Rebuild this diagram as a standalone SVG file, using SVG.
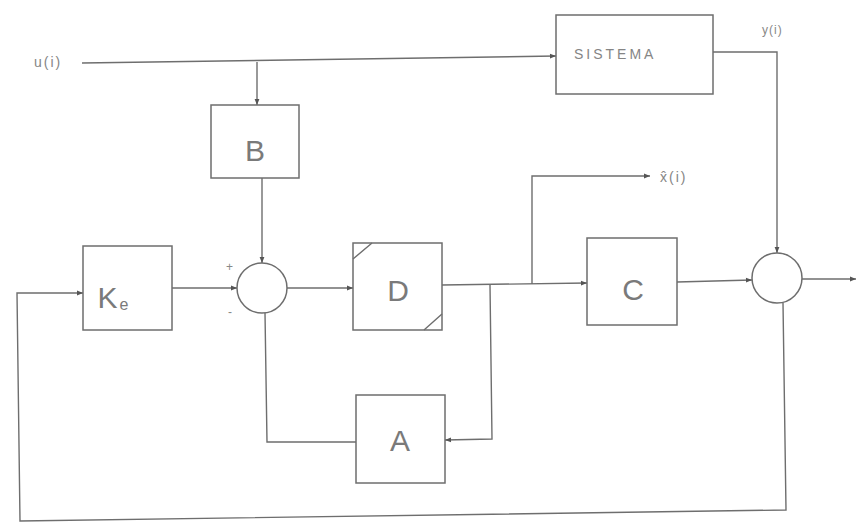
<svg xmlns="http://www.w3.org/2000/svg" width="858" height="523" viewBox="0 0 858 523">
<style>
.box{fill:none;stroke:#6e6e6e;stroke-width:1.5}
.ln{fill:none;stroke:#6e6e6e;stroke-width:1.4}
.big{font-family:"Liberation Sans",Arial,sans-serif;font-size:30px;fill:#7a7a7a;text-anchor:middle}
.lbl{font-family:"Liberation Sans",Arial,sans-serif;font-size:14px;fill:#858585}
.sm{font-family:"Liberation Sans",Arial,sans-serif;font-size:12px;fill:#888}
</style>
<defs>
<marker id="ar" viewBox="0 0 10 10" refX="10" refY="5" markerWidth="8" markerHeight="6" orient="auto" markerUnits="userSpaceOnUse">
<path d="M0,1 L10,5 L0,9 Z" fill="#555"/>
</marker>
</defs>
<rect width="858" height="523" fill="#fff"/>
<g id="connectors">
<path class="ln" d="M82,63 L556,56" marker-end="url(#ar)"/>
<path class="ln" d="M257,62 L257,105" marker-end="url(#ar)"/>
<path class="ln" d="M262,178 L262,263" marker-end="url(#ar)"/>
<path class="ln" d="M172,288 L237,288" marker-end="url(#ar)"/>
<path class="ln" d="M287,288 L353,288" marker-end="url(#ar)"/>
<path class="ln" d="M442,285 L587,283" marker-end="url(#ar)"/>
<path class="ln" d="M532,284 L532,176 L650,176" marker-end="url(#ar)"/>
<path class="ln" d="M490,285 L492,439 L445,440" marker-end="url(#ar)"/>
<path class="ln" d="M356,442 L267,442 L265,313"/>
<path class="ln" d="M677,282 L752,280" marker-end="url(#ar)"/>
<path class="ln" d="M713,52 L777,52 L777,253" marker-end="url(#ar)"/>
<path class="ln" d="M802,279 L856,279" marker-end="url(#ar)"/>
<path class="ln" d="M783,303 L786,510 L20,521 L17,293 L83,293" marker-end="url(#ar)"/>
</g>
<g id="u-label"><text class="lbl" x="34" y="67" letter-spacing="2">u(i)</text></g>
<g id="sistema">
<rect class="box" x="556" y="15" width="157" height="79"/>
<text class="lbl" x="574" y="59" font-size="15" letter-spacing="3">SISTEMA</text>
</g>
<g id="y-label"><text class="sm" x="762" y="34" letter-spacing="1">y(i)</text></g>
<g id="B">
<rect class="box" x="211" y="105" width="88" height="73"/>
<text class="big" x="255" y="161">B</text>
</g>
<g id="Ke">
<rect class="box" x="83" y="246" width="89" height="84"/>
<text class="big" x="113" y="308" text-anchor="start">K<tspan font-size="16" dx="2" dy="2">e</tspan></text>
</g>
<g id="sum1">
<circle class="box" cx="262" cy="288" r="25"/>
<text class="sm" x="226" y="271">+</text>
<text class="sm" x="228" y="316">-</text>
</g>
<g id="D">
<rect class="box" x="353" y="243" width="89" height="87"/>
<path class="ln" d="M353,259 L372,243 M424,330 L442,314"/>
<text class="big" x="398" y="301">D</text>
</g>
<g id="xhat-label"><text class="lbl" x="660" y="182" letter-spacing="2">x̂(i)</text></g>
<g id="A">
<rect class="box" x="356" y="395" width="89" height="88"/>
<text class="big" x="400" y="451">A</text>
</g>
<g id="C">
<rect class="box" x="587" y="238" width="90" height="87"/>
<text class="big" x="633" y="300">C</text>
</g>
<g id="sum2">
<circle class="box" cx="777" cy="278" r="25"/>
</g>
</svg>
